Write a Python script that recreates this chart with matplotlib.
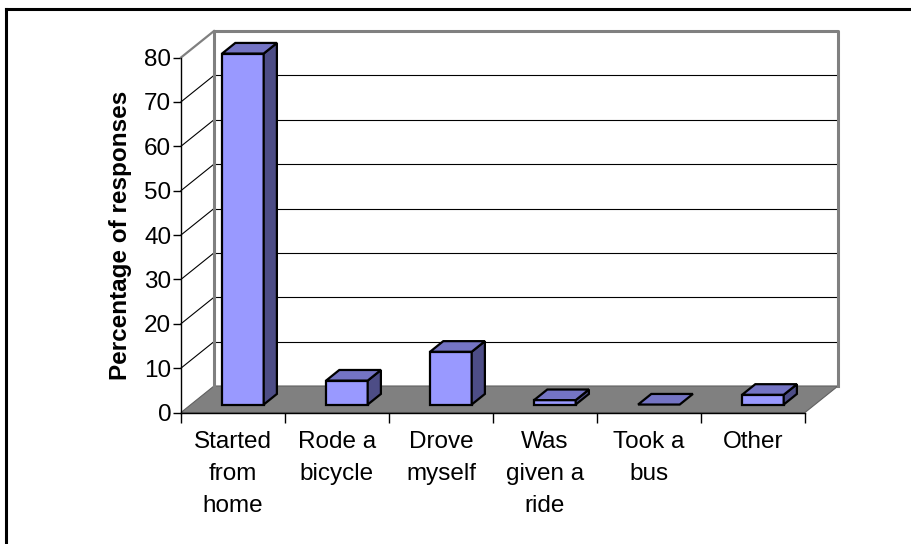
import matplotlib
matplotlib.use("Agg")
import matplotlib.pyplot as plt
from matplotlib.patches import Polygon
from matplotlib.lines import Line2D
import numpy as np

# survey answers (percent of responses)
categories = ["Started\nfrom\nhome", "Rode a\nbicycle", "Drove\nmyself",
              "Was\ngiven a\nride", "Took a\nbus", "Other"]
percent = [79.1, 5.4, 11.9, 1.0, 0.0, 2.2]
yticks = [0, 10, 20, 30, 40, 50, 60, 70, 80]

plt.rcParams['font.family'] = ['Liberation Sans', 'DejaVu Sans']
FS = 17.5

W, H = 912, 544
fig = plt.figure(figsize=(W / 100, H / 100), dpi=100)
fig.patch.set_facecolor('white')

# front plane of the 3d box in pixels
x0, x1 = 181, 805
y0, y80 = 412.5, 57.5
ax = fig.add_axes([x0 / W, 1 - y0 / H, (x1 - x0) / W, (y0 - y80) / H])
n = len(categories)
ax.set_xlim(0, n)
ax.set_ylim(0, 80)

# depth offset of the back wall, in data units
dx = 33 / ((x1 - x0) / n)
dy = 26.5 / ((y0 - y80) / 80)

def poly(pts, fc, ec='black', lw=0, z=1):
    ax.add_patch(Polygon(pts, closed=True, facecolor=fc, edgecolor=ec,
                         linewidth=lw, zorder=z, clip_on=False, joinstyle='miter'))

# floor
poly([(0, 0), (n, 0), (n + dx, dy), (dx, dy)], '#808080', ec='#606060', lw=0.8, z=1)

# gridlines on the back wall and the left wall
for v in yticks[1:-1]:
    ax.add_line(Line2D([dx, n + dx], [v + dy, v + dy], color='black', lw=0.8,
                       zorder=2, clip_on=False))
    ax.add_line(Line2D([0, dx], [v, v + dy], color='black', lw=0.8,
                       zorder=2, clip_on=False))
top = yticks[-1]
ax.add_line(Line2D([0, dx], [top, top + dy], color='#808080', lw=1.6,
                   zorder=2, clip_on=False))
# back wall outline
ax.add_line(Line2D([dx, dx, n + dx, n + dx], [dy, top + dy, top + dy, dy],
                   color='#808080', lw=2.2, zorder=2, clip_on=False))

# bars
w = 0.4
f, b = 0.3, 0.7
for i, v in enumerate(percent):
    c = i + 0.5
    xl = c - w / 2 + f * dx
    xr = c + w / 2 + f * dx
    yb = f * dy
    yt = v + f * dy
    ox = (b - f) * dx
    oy = (b - f) * dy
    lw = 1.6
    if v > 0:
        poly([(xl, yb), (xr, yb), (xr, yt), (xl, yt)], '#9999ff', lw=lw, z=5)
        poly([(xr, yb), (xr + ox, yb + oy), (xr + ox, yt + oy), (xr, yt)],
             '#4d4d86', lw=lw, z=5)
    poly([(xl, yt), (xr, yt), (xr + ox, yt + oy), (xl + ox, yt + oy)],
         '#7474c4', lw=lw, z=6)

# axes styling
for s in ['top', 'right']:
    ax.spines[s].set_visible(False)
ax.spines['left'].set_linewidth(1.0)
ax.spines['bottom'].set_linewidth(1.0)
ax.spines['left'].set_zorder(3)
ax.spines['bottom'].set_zorder(3)
ax.patch.set_visible(False)

ax.set_yticks(yticks)
ax.tick_params(axis='y', direction='out', length=6, width=1, labelsize=FS, pad=1)
ax.set_xticks(np.arange(n) + 0.5)
ax.set_xticklabels(categories, linespacing=1.6)
ax.set_xticks(np.arange(n + 1), minor=True)
ax.tick_params(axis='x', which='major', length=0, labelsize=FS, pad=13)
ax.tick_params(axis='x', which='minor', direction='out', length=7, width=1)
ax.set_ylabel('Percentage of responses', fontsize=FS, fontweight='bold', labelpad=9)

# chart area border
fig.add_artist(Line2D([6 / W, 6 / W], [0, 1 - 9 / H], color='black', lw=2.2,
                      transform=fig.transFigure))
fig.add_artist(Line2D([6 / W, 1.0], [1 - 9 / H, 1 - 9 / H], color='black', lw=2.2,
                      transform=fig.transFigure))

fig.savefig('out.png', dpi=100)
